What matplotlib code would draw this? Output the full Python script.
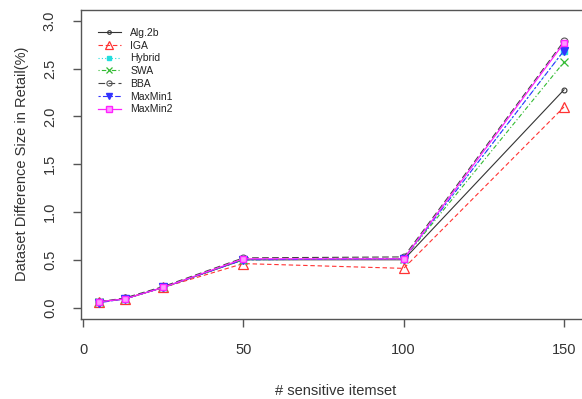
import numpy as np
import matplotlib
matplotlib.use("Agg")
import matplotlib.pyplot as plt

plt.rcParams['font.family'] = ['Liberation Sans', 'DejaVu Sans']

# data
x = [5, 13, 25, 50, 100, 150]
alg2b = [0.06, 0.09, 0.21, 0.50, 0.50, 2.28]
iga = [0.06, 0.09, 0.21, 0.46, 0.41, 2.10]
hybrid = [0.06, 0.09, 0.21, 0.50, 0.51, 2.69]
swa = [0.06, 0.09, 0.21, 0.50, 0.51, 2.57]
bba = [0.06, 0.10, 0.22, 0.52, 0.53, 2.79]
maxmin1 = [0.05, 0.09, 0.21, 0.50, 0.51, 2.69]
maxmin2 = [0.06, 0.09, 0.21, 0.51, 0.51, 2.77]

xticks = [0, 50, 100, 150]
yticks = [0.0, 0.5, 1.0, 1.5, 2.0, 2.5, 3.0]

W, H = 582, 399
fig = plt.figure(figsize=(W / 100, H / 100), dpi=100)
# R-style box, right edge falls outside the picture
ax = fig.add_axes([80.5 / W, (H - 319) / H, (590 - 80.5) / W, (319 - 9.5) / H])

txt = '#333333'
axc = '#555555'

ax.plot(x, alg2b, color='#333333', ls='-', lw=0.8, marker='o', ms=3.5,
        mfc='none', mec='#333333', mew=0.8, label='Alg.2b')
ax.plot(x, iga, color='#ff3333', ls=(0, (4, 2.5)), lw=0.8, marker='^', ms=7,
        mfc='none', mec='#ff3333', mew=0.9, label='IGA')
ax.plot(x, hybrid, color='#22dddd', ls=(0, (1, 2)), lw=0.8, marker='s', ms=4.5,
        mfc='#22dddd', mec='#22dddd', label='Hybrid')
ax.plot(x, swa, color='#33bb33', ls=(0, (1, 2, 4, 2)), lw=0.8, marker='x', ms=5.5,
        mec='#33bb33', mew=0.9, label='SWA')
ax.plot(x, bba, color='#444444', ls=(0, (6, 3)), lw=0.8, marker='o', ms=5,
        mfc='none', mec='#555555', mew=0.8, label='BBA')
ax.plot(x, maxmin1, color='#3333ff', ls=(0, (2, 2, 5, 2)), lw=0.8, marker='v', ms=5.5,
        mfc='#3333ff', mec='#3333ff', label='MaxMin1')
ax.plot(x, maxmin2, color='#ff22ff', ls='-', lw=0.9, marker='s', ms=5,
        mfc='#ff99ff', mec='#ff22ff', mew=1.0, label='MaxMin2')

ax.set_xlim(-0.78, 158.1)
ax.set_ylim(-0.12, 3.12)
ax.set_xticks(xticks)
ax.set_yticks(yticks)
ax.set_xticklabels([str(t) for t in xticks])
ax.set_yticklabels(['%.1f' % t for t in yticks], rotation=90, va='center')

for s in ax.spines.values():
    s.set_color(axc)
    s.set_linewidth(1.0)

ax.tick_params(axis='both', colors=axc, labelcolor=txt, labelsize=10.5,
               length=6, width=1.0)
ax.tick_params(axis='x', pad=11)
ax.tick_params(axis='y', pad=11)

ax.set_xlabel('# sensitive itemset', fontsize=10.5, color=txt, labelpad=20)
ax.set_ylabel('Dataset Difference Size in Retail(%)', fontsize=10.5, color=txt,
              labelpad=10)

leg = ax.legend(loc='upper left', bbox_to_anchor=(98 / W, (H - 28) / H),
                bbox_transform=fig.transFigure, frameon=False, fontsize=7.5,
                handlelength=2.2, handletextpad=0.9, labelspacing=0.26,
                borderaxespad=0, borderpad=0, markerscale=0.75)
for t in leg.get_texts():
    t.set_color('#222222')

fig.savefig('out.png', dpi=100)
